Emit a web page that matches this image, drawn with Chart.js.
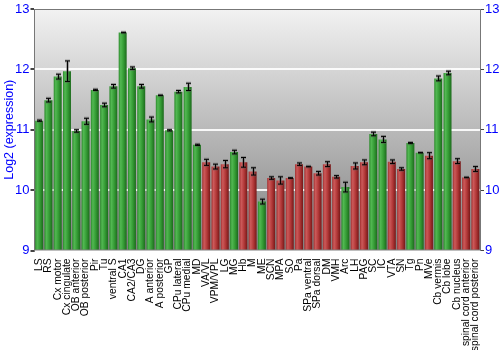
<!DOCTYPE html>
<html>
<head>
<meta charset="utf-8">
<script src="https://cdn.jsdelivr.net/npm/chart.js@4.4.1/dist/chart.umd.min.js"></script>
<style>
  html, body { margin: 0; padding: 0; background: #fff; }
  #wrap { width: 500px; height: 350px; }
</style>
</head>
<body>
<div id="wrap"><canvas id="exprChart" width="500" height="350"></canvas></div>
<script>
const regions = [
  "LS", "RS", "Cx motor", "Cx cingulate", "OB anterior", "OB posterior", "Pir", "Tu",
  "ventral S", "CA1", "CA2/CA3", "DG", "A anterior", "A posterior", "GP", "CPu lateral",
  "CPu medial", "MD", "VA/VL", "VPM/VPL", "LG", "MG", "Hb", "M", "ME", "SCN", "MPA", "SO",
  "Pa", "SPa ventral", "SPa dorsal", "DM", "VMH", "Arc", "LH", "PAG", "SC", "IC", "VTA",
  "SN", "Tg", "Pn", "MVe", "Cb vermis", "Cb lobe", "Cb nucleus", "spinal cord anterior",
  "spinal cord posterior"
];

const expression = [
  11.15, 11.49, 11.88, 11.97, 10.98, 11.14, 11.66, 11.41,
  11.72, 12.61, 12.02, 11.72, 11.17, 11.57, 10.99, 11.63,
  11.71, 10.75, 10.46, 10.39, 10.43, 10.63, 10.46, 10.31, 9.81, 10.20, 10.16, 10.20,
  10.43, 10.39, 10.28, 10.43, 10.22, 10.05, 10.40, 10.46, 10.93, 10.84, 10.47,
  10.35, 10.78, 10.62, 10.57, 11.85, 11.94, 10.48, 10.21,
  10.35
];

const stderr = [
  0.01, 0.03, 0.04, 0.17, 0.02, 0.05, 0.01, 0.03,
  0.03, 0.005, 0.02, 0.03, 0.04, 0.005, 0.01, 0.02,
  0.06, 0.01, 0.05, 0.04, 0.06, 0.03, 0.08, 0.06, 0.04, 0.02, 0.06, 0.005,
  0.02, 0.005, 0.03, 0.04, 0.02, 0.08, 0.05, 0.04, 0.03, 0.05, 0.03,
  0.02, 0.01, 0.005, 0.05, 0.04, 0.03, 0.04, 0.005,
  0.04
];

// g = above threshold (green), r = below (red)
const groups = [
  "g", "g", "g", "g", "g", "g", "g", "g",
  "g", "g", "g", "g", "g", "g", "g", "g",
  "g", "g", "r", "r", "r", "g", "r", "r", "g", "r", "r", "r",
  "r", "r", "r", "r", "r", "g", "r", "r", "g", "g", "r",
  "r", "g", "g", "r", "g", "g", "r", "r",
  "r"
];

const yTicks = [9, 10, 11, 12, 13];

const FONT = "'Liberation Sans', Arial, sans-serif";

function barFill(c) {
  const isGreen = groups[c.dataIndex] === "g";
  const flat = isGreen ? "#38a038" : "#b83a3a";
  const xs = c.chart.scales && c.chart.scales.x;
  if (!xs || c.type !== "data") return flat;
  const cx = xs.getPixelForValue(c.dataIndex);
  const w = (xs.width / regions.length) * 0.86;
  if (!isFinite(cx) || !isFinite(w) || w <= 0) return flat;
  const g = c.chart.ctx.createLinearGradient(cx - w / 2, 0, cx + w / 2, 0);
  if (isGreen) {
    g.addColorStop(0, "#2c8a2c");
    g.addColorStop(0.25, "#52b852");
    g.addColorStop(0.6, "#359c35");
    g.addColorStop(1, "#1c6a1c");
  } else {
    g.addColorStop(0, "#a23030");
    g.addColorStop(0.25, "#cc5a5a");
    g.addColorStop(0.6, "#b23838");
    g.addColorStop(1, "#761818");
  }
  return g;
}

const backdrop = {
  id: "backdrop",
  beforeDraw(chart) {
    const { ctx, chartArea: a } = chart;
    const g = ctx.createLinearGradient(0, a.top, 0, a.bottom);
    g.addColorStop(0, "#f2f2f2");
    g.addColorStop(1, "#808080");
    ctx.save();
    ctx.fillStyle = g;
    ctx.fillRect(a.left, a.top, a.right - a.left, a.bottom - a.top);
    ctx.restore();
  },
  afterDraw(chart) {
    const { ctx, chartArea: a } = chart;
    ctx.save();
    ctx.strokeStyle = "#777";
    ctx.lineWidth = 1;
    ctx.beginPath();
    ctx.moveTo(a.left, a.top + 0.5);
    ctx.lineTo(a.right, a.top + 0.5);
    ctx.stroke();
    ctx.restore();
  }
};

const errorBars = {
  id: "errorBars",
  afterDatasetsDraw(chart) {
    const { ctx } = chart;
    const xs = chart.scales.x, ys = chart.scales.y;
    ctx.save();
    expression.forEach((v, i) => {
      const x = Math.round(xs.getPixelForValue(i)) + 0.5;
      const y1 = ys.getPixelForValue(v + stderr[i]);
      const y2 = ys.getPixelForValue(v - stderr[i]);
      const passes = [["rgba(90,90,90,0.45)", 3], ["#000", 1]];
      passes.forEach(([col, lw]) => {
        ctx.strokeStyle = col;
        ctx.lineWidth = lw;
        ctx.beginPath();
        ctx.moveTo(x, y1); ctx.lineTo(x, y2);
        ctx.moveTo(x - 2.5, y1); ctx.lineTo(x + 2.5, y1);
        ctx.moveTo(x - 2.5, y2); ctx.lineTo(x + 2.5, y2);
        ctx.stroke();
      });
    });
    ctx.restore();
  }
};

const ctx = document.getElementById("exprChart").getContext("2d");

const chart = new Chart(ctx, {
  type: "bar",
  data: {
    labels: regions,
    datasets: [
      {
        label: "expression",
        data: expression,
        backgroundColor: barFill,
        borderWidth: 0,
        categoryPercentage: 1,
        barPercentage: 0.86,
        base: 9,
      },
    ],
  },
  options: {
    responsive: false,
    animation: false,
    layout: { padding: { top: 9, left: 0, right: 0, bottom: 0 } },
    scales: {
      x: {
        grid: { display: false },
        border: { display: false },
        ticks: {
          autoSkip: false,
          minRotation: 90,
          maxRotation: 90,
          padding: 0,
          color: "#000",
          font: { family: FONT, size: 10.3 },
        },
        afterFit(scale) { scale.height = 99.5; },
      },
      y: {
        min: 9,
        max: 13,
        afterBuildTicks(scale) { scale.ticks = yTicks.map((v) => ({ value: v })); },
        grid: {
          color: (c) => (c.tick && c.tick.value > 9 && c.tick.value < 13 ? "rgba(255,255,255,0.9)" : "rgba(0,0,0,0)"),
          lineWidth: 2,
          tickColor: "#444",
          tickLength: 4,
        },
        border: { color: "#777", width: 1 },
        ticks: { color: "#0000ff", padding: 1, font: { family: FONT, size: 13 } },
        title: {
          display: true,
          text: "Log2 (expression)",
          color: "#0000ff",
          padding: { top: 2, bottom: 0 },
          font: { family: FONT, size: 12.5 },
        },
        afterFit(scale) { scale.width = 34.5; },
      },
      y2: {
        position: "right",
        min: 9,
        max: 13,
        afterBuildTicks(scale) { scale.ticks = yTicks.map((v) => ({ value: v })); },
        grid: { drawOnChartArea: false, tickColor: "#444", tickLength: 4 },
        border: { color: "#777", width: 1 },
        ticks: { color: "#0000ff", padding: 1, font: { family: FONT, size: 13 } },
        afterFit(scale) { scale.width = 20; },
      },
    },
    plugins: {
      legend: { display: false },
      tooltip: { enabled: false },
    },
  },
  plugins: [backdrop, errorBars],
});
chart.update();
</script>
</body>
</html>
